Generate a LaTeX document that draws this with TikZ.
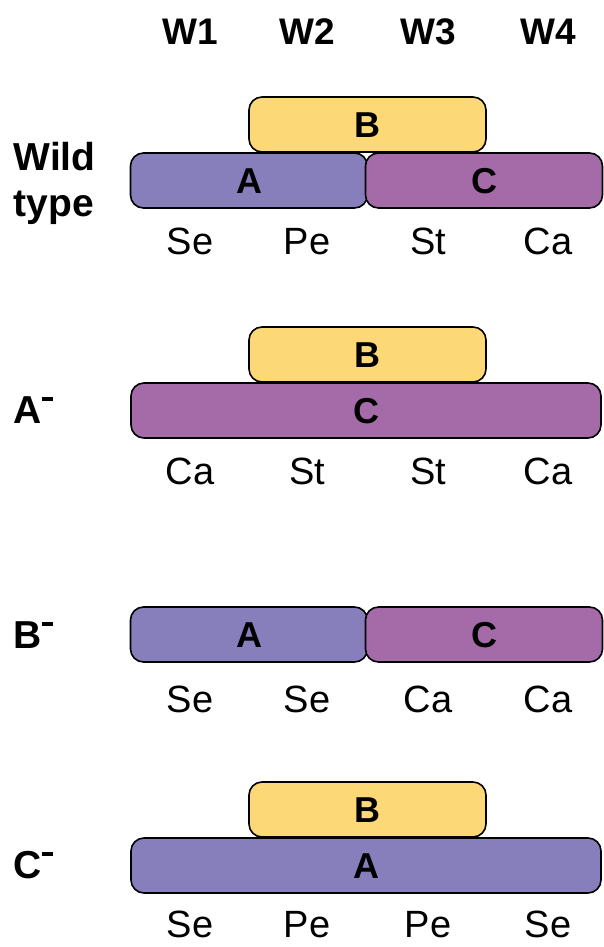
\documentclass[tikz,border=0pt]{standalone}
\usepackage{fontspec}
\setmainfont{Liberation Sans}
\definecolor{colA}{HTML}{877FBC}
\definecolor{colB}{HTML}{FDD877}
\definecolor{colC}{HTML}{A46BA8}
\begin{document}
\begin{tikzpicture}[x=1pt,y=-1pt,
  gene/.style={draw=black, line width=1.6pt, rounded corners=13pt, minimum height=55pt, inner sep=0pt,
    text height=26pt, text depth=0pt,
    font=\fontsize{36}{40}\selectfont\bfseries},
  short/.style={gene, minimum width=237pt},
  long/.style={gene, minimum width=470pt},
  hdr/.style={anchor=base, font=\fontsize{37}{42}\selectfont\bfseries},
  org/.style={anchor=base, font=\fontsize{38}{44}\selectfont},
  rowlbl/.style={font=\fontsize{39}{44}\selectfont\bfseries, align=left}]
\useasboundingbox (0,0) rectangle (603,947);
\newcommand{\mns}{\raisebox{0.58em}{\rule{0.28em}{0.09em}}}
% headers
\node[hdr] (w1) at (190,45) {W1};
\node[hdr] (w2) at (307,45) {W2};
\node[hdr] (w3) at (428,45) {W3};
\node[hdr] (w4) at (548,45) {W4};
% wild type
\node[rowlbl, anchor=west] (lwt) at (10,183) {Wild\\[2pt]type};
\node[short, fill=colA] (wtA) at (249,180.5) {A};
\node[short, fill=colC] (wtC) at (484,180.5) {C};
\node[short, fill=colB] (wtB) at (367.5,124.5) {B};
\node[org] (wt1) at (190,254) {Se};
\node[org] (wt2) at (307,254) {Pe};
\node[org] (wt3) at (428,254) {St};
\node[org] (wt4) at (548,254) {Ca};
% A-
\node[rowlbl, anchor=west] (la) at (10,410) {A\mns};
\node[long, fill=colC] (aC) at (366,410.5) {C};
\node[short, fill=colB] (aB) at (367.5,354.5) {B};
\node[org] (a1) at (190,484) {Ca};
\node[org] (a2) at (307,484) {St};
\node[org] (a3) at (428,484) {St};
\node[org] (a4) at (548,484) {Ca};
% B-
\node[rowlbl, anchor=west] (lb) at (10,635) {B\mns};
\node[short, fill=colA] (bA) at (249,634.5) {A};
\node[short, fill=colC] (bC) at (484,634.5) {C};
\node[org] (b1) at (190,712) {Se};
\node[org] (b2) at (307,712) {Se};
\node[org] (b3) at (428,712) {Ca};
\node[org] (b4) at (548,712) {Ca};
% C-
\node[rowlbl, anchor=west] (lc) at (10,865) {C\mns};
\node[long, fill=colA] (cA) at (366,865.5) {A};
\node[short, fill=colB] (cB) at (367.5,809.5) {B};
\node[org] (c1) at (190,937) {Se};
\node[org] (c2) at (307,937) {Pe};
\node[org] (c3) at (428,937) {Pe};
\node[org] (c4) at (548,937) {Se};
\end{tikzpicture}
\end{document}
